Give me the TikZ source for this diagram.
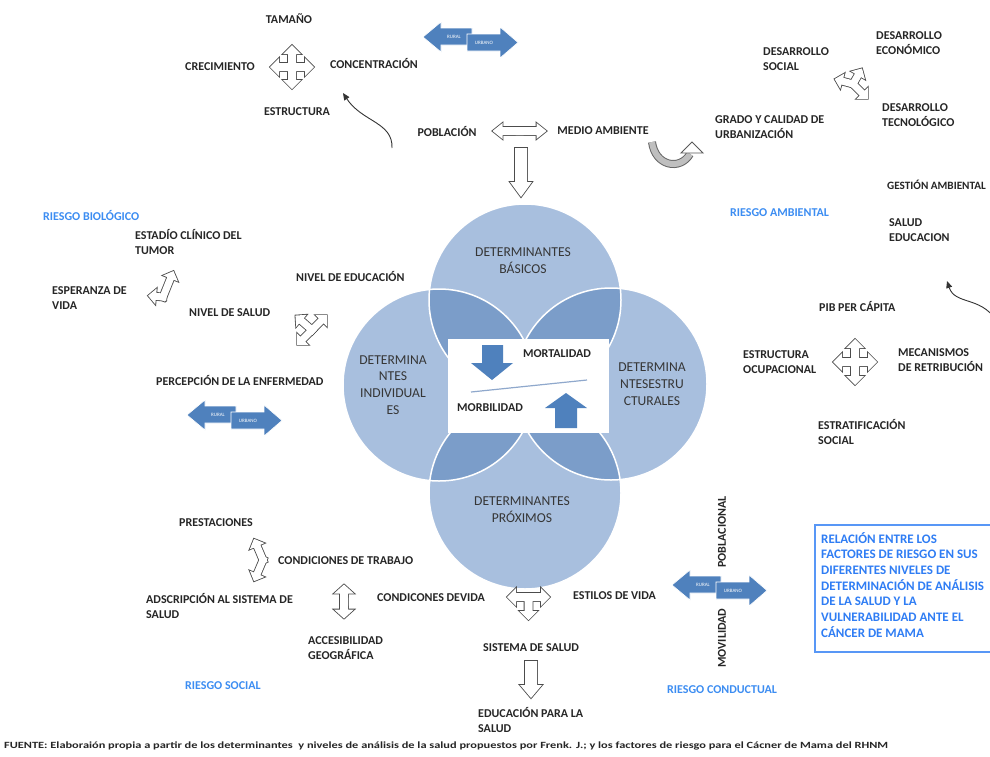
\documentclass[tikz,border=0pt]{standalone}
\usepackage{fontspec}
\setmainfont{Carlito}
\usetikzlibrary{arrows.meta}
\definecolor{txt}{HTML}{262626}
\definecolor{ctxt}{HTML}{363636}
\definecolor{riskblue}{HTML}{3C8DF2}
\definecolor{boxblue}{HTML}{2F7DF4}
\definecolor{circlight}{HTML}{A8BFDE}
\definecolor{circdark}{HTML}{7B9DC9}
\definecolor{arrblue}{HTML}{4F81BD}
\definecolor{linegray}{HTML}{8FA8CC}
\tikzset{
  lbl/.style={font=\bfseries\fontsize{12}{15.5}\selectfont, text=txt, inner sep=0pt, align=left},
  risk/.style={font=\bfseries\fontsize{12}{15}\selectfont, text=riskblue, inner sep=0pt},
  ctext/.style={font=\fontsize{13.6}{16.8}\selectfont, text=ctxt, inner sep=0pt, align=center},
  bluearr/.style={fill=arrblue, draw=white, line width=0.6pt},
  arrtxt/.style={font=\fontsize{5}{5}\selectfont, text=white, inner sep=0pt},
  outarr/.style={draw=black!70, line width=1.7pt},
  thinarrow/.style={draw=black!80, line width=0.9pt, -{Triangle[length=7pt,width=6pt]}}
}
\newcommand\outarrow[6]{%
  \foreach \a/\l in {#6}{\draw[outarr,shift={(#1,#2)},rotate=\a] (-#3,-#3) -- ({\l-#5},-#3) -- ({\l-#5},-#4) -- (\l,0) -- ({\l-#5},#4) -- ({\l-#5},#3) -- (-#3,#3) -- cycle;}%
  \foreach \a/\l in {#6}{\fill[white,shift={(#1,#2)},rotate=\a] (-#3,-#3) -- ({\l-#5},-#3) -- ({\l-#5},-#4) -- (\l,0) -- ({\l-#5},#4) -- ({\l-#5},#3) -- (-#3,#3) -- cycle;}%
}
\newcommand\bluepair[3]{%
  \begin{scope}[shift={(#1,#2)}]
    \filldraw[bluearr] (0,15) -- (18,0) -- (18,6) -- (49,6) -- (49,23) -- (18,23) -- (18,30) -- cycle;
    \node[arrtxt] (#3l) at (31,14.5) {RURAL};
    \filldraw[bluearr] (44,12) -- (77,12) -- (77,5) -- (95,20.5) -- (77,36) -- (77,29) -- (44,29) -- cycle;
    \node[arrtxt] (#3r) at (61,20.5) {URBANO};
  \end{scope}}
\begin{document}
\begin{tikzpicture}[x=1pt,y=-1pt]
\useasboundingbox (0,0) rectangle (990,756);
\fill[white] (0,0) rectangle (990,756);

% ---------- Venn circles ----------
\def\CT{(525,300) circle (96)}
\def\CL{(439,385) circle (96)}
\def\CR{(611,384) circle (96)}
\def\CB{(525,493) circle (96)}
\fill[circlight] \CT; \fill[circlight] \CL; \fill[circlight] \CR; \fill[circlight] \CB;
\begin{scope}\clip \CT; \fill[circdark] \CL; \fill[circdark] \CR; \end{scope}
\begin{scope}\clip \CB; \fill[circdark] \CL; \fill[circdark] \CR; \end{scope}
\begin{scope}\clip \CL; \fill[circdark] \CR; \end{scope}
\draw[white, line width=1.5pt] \CT; \draw[white, line width=1.5pt] \CL;
\draw[white, line width=1.5pt] \CR; \draw[white, line width=1.5pt] \CB;

\node[ctext] (cbas) at (523,261) {DETERMINANTES\\BÁSICOS};
\node[ctext] (cind) at (393,385) {DETERMINA\\NTES\\INDIVIDUAL\\ES};
\node[ctext] (cest) at (652,384) {DETERMINA\\NTESESTRU\\CTURALES};
\node[ctext] (cpro) at (522,510) {DETERMINANTES\\PRÓXIMOS};

% ---------- central white box ----------
\fill[white] (448,339) rectangle (609,433);
\fill[arrblue] (482,345) -- (503,345) -- (503,363) -- (513,363) -- (492,380) -- (471,363) -- (482,363) -- cycle;
\fill[arrblue] (555,428) -- (577,428) -- (577,408) -- (587,408) -- (566,393) -- (545,408) -- (555,408) -- cycle;
\coordinate (lnA) at (471,392); \coordinate (lnB) at (587,380);
\draw[linegray, line width=1.2pt] (lnA) -- (lnB);
\node[lbl] (mort) at (557,354) {MORTALIDAD};
\node[lbl] (morb) at (490,408) {MORBILIDAD};

% ---------- top ----------
\node[lbl] (tam) at (289,19) {TAMAÑO};
\node[lbl] (cre) at (220,67) {CRECIMIENTO};
\node[lbl] (con) at (374,63) {CONCENTRACIÓN};
\node[lbl] (estr) at (297,112) {ESTRUCTURA};
\outarrow{292}{67}{4}{9}{9}{0/22,90/22,180/22,270/22}
\coordinate (c1s) at (392,148); \coordinate (c1e) at (343,93);
\draw[thinarrow] (c1s) .. controls (393,122) and (362,122) .. (c1e);

\bluepair{423}{22}{pa}

\node[lbl] (pob) at (447,131) {POBLACIÓN};
\node[lbl] (med) at (603,131) {MEDIO AMBIENTE};
\outarrow{519.5}{131}{4}{8}{10}{0/27,180/27}
\outarrow{521}{154}{6}{11}{15}{270/43}

% grey ribbon arrow
\coordinate (rbA) at (652,142); \coordinate (rbB) at (690,154);
\draw[line width=8pt, black!60] (rbA) .. controls (655,166) and (680,171) .. (rbB);
\draw[line width=6pt, black!25] (rbA) .. controls (655,166) and (680,171) .. (rbB);
\filldraw[fill=white, draw=black!65, line width=0.9pt] (681,153) -- (692,142) -- (703,153) -- cycle;

\node[lbl, anchor=west] (gra) at (715,127) {GRADO Y CALIDAD DE\\URBANIZACIÓN};
\node[lbl, anchor=west] (dsoc) at (763,59) {DESARROLLO\\SOCIAL};
\node[lbl, anchor=west] (deco) at (876,43) {DESARROLLO\\ECONÓMICO};
\node[lbl, anchor=west] (dtec) at (882,115) {DESARROLLO\\TECNOLÓGICO};
\outarrow{853}{84}{3.5}{8}{8}{165/19,60/18,-45/21}
\node[lbl, anchor=west, font=\bfseries\fontsize{11.2}{14}\selectfont] (gest) at (887,185) {GESTIÓN AMBIENTAL};
\node[lbl, anchor=west] (sal) at (889,230) {SALUD\\EDUCACION};
\node[risk, anchor=west] (ramb) at (730,213) {RIESGO AMBIENTAL};
\coordinate (c2s) at (996,320); \coordinate (c2e) at (947,281);
\draw[thinarrow] (c2s) .. controls (980,296) and (955,305) .. (c2e);

% ---------- left ----------
\node[risk, anchor=west] (rbio) at (43,215) {RIESGO BIOLÓGICO};
\node[lbl, anchor=west] (esta) at (135,242) {ESTADÍO CLÍNICO DEL\\TUMOR};
\node[lbl, anchor=west] (espe) at (52,298) {ESPERANZA DE\\VIDA};
\outarrow{163}{297}{3.5}{8}{8}{68/28,175/15}
\node[lbl, anchor=west] (nedu) at (296,276) {NIVEL DE EDUCACIÓN};
\node[lbl, anchor=west] (nsal) at (189,313) {NIVEL DE SALUD};
\outarrow{312}{330}{3.5}{8}{8}{139/22,45/21,225/21}
\node[lbl, anchor=west] (perc) at (156,380) {PERCEPCIÓN DE LA ENFERMEDAD};
\bluepair{187}{400}{pb}

% ---------- right ----------
\node[lbl, anchor=west] (pib) at (819,306) {PIB PER CÁPITA};
\node[lbl, anchor=west] (eocu) at (743,362) {ESTRUCTURA\\OCUPACIONAL};
\outarrow{855}{362}{4}{9}{9}{0/22,90/23,180/22,270/23}
\node[lbl, anchor=west] (meca) at (898,360) {MECANISMOS\\DE RETRIBUCIÓN};
\node[lbl, anchor=west] (estra) at (818,432) {ESTRATIFICACIÓN\\SOCIAL};

% ---------- bottom ----------
\node[lbl, anchor=west] (pres) at (179,523) {PRESTACIONES};
\outarrow{263}{560}{3.5}{8}{8}{113/23,247/23}
\node[lbl, anchor=west] (ctra) at (278,561) {CONDICIONES DE TRABAJO};
\node[lbl, anchor=west] (adsc) at (146,606) {ADSCRIPCIÓN AL SISTEMA DE\\SALUD};
\outarrow{344}{601.5}{4}{10}{9}{90/17,270/17}
\node[lbl, anchor=west] (cvid) at (377,598) {CONDICONES DEVIDA};
\node[lbl, anchor=west] (acce) at (308,648) {ACCESIBILIDAD\\GEOGRÁFICA};
\node[risk, anchor=west] (rsoc) at (185,686) {RIESGO SOCIAL};
\outarrow{528.5}{597}{4}{9}{9}{0/21.5,180/21.5,270/23}
\node[lbl, anchor=west] (esti) at (573,596) {ESTILOS DE VIDA};
\node[lbl, anchor=west] (ssal) at (483,648) {SISTEMA DE SALUD};
\outarrow{531}{667}{6}{11}{13}{270/31}
\node[lbl, anchor=west] (edus) at (478,720) {EDUCACIÓN PARA LA\\SALUD};

\bluepair{672}{570}{pc}
\node[lbl, rotate=90] (pobl) at (722,532) {POBLACIONAL};
\node[lbl, rotate=90] (movi) at (722,638) {MOVILIDAD};
\node[risk, anchor=west] (rcon) at (667,690) {RIESGO CONDUCTUAL};

\draw[boxblue!80, line width=1.2pt] (815,525) rectangle (1000,652);
\node[font=\bfseries\fontsize{13}{15.7}\selectfont, text=boxblue, inner sep=0pt, align=left, anchor=north west] (rel) at (821,532)
 {RELACIÓN ENTRE LOS\\FACTORES DE RIESGO EN SUS\\DIFERENTES NIVELES DE\\DETERMINACIÓN DE ANÁLISIS\\DE LA SALUD Y LA\\VULNERABILIDAD ANTE EL\\CÁNCER DE MAMA};

\node[font=\bfseries\fontsize{9.5}{10}\selectfont, text=txt, inner sep=0pt, anchor=west] (fuente) at (4,746)
 {\scalebox{1.3}[1]{FUENTE: Elaboraión propia a partir de los determinantes \ y niveles de análisis de la salud propuestos por Frenk. J.; y los factores de riesgo para el Cácner de Mama del RHNM}};
\end{tikzpicture}
\end{document}
